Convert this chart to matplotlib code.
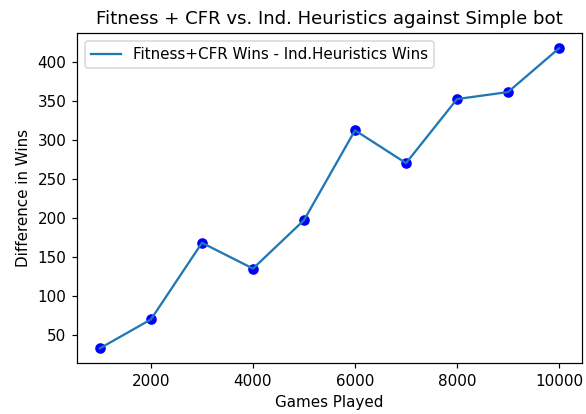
import matplotlib
matplotlib.use('Agg')
import matplotlib.pyplot as plt

games = [1000, 2000, 3000, 4000, 5000, 6000, 7000, 8000, 9000, 10000]
diff_wins = [33, 70, 168, 135, 197, 312, 270, 352, 361, 417]

dpi = 109
fig = plt.figure(figsize=(586 / dpi, 414 / dpi), dpi=dpi)
ax = fig.add_axes([0.1314, 0.1225, 0.8618, 0.7971])

ax.plot(games, diff_wins, label='Fitness+CFR Wins - Ind.Heuristics Wins')
ax.scatter(games, diff_wins, color='blue')

ax.legend(loc='upper left')
ax.set_title('Fitness + CFR vs. Ind. Heuristics against Simple bot')
ax.set_xlabel('Games Played')
ax.set_ylabel('Difference in Wins')
fig.savefig('out.png', dpi=dpi)
